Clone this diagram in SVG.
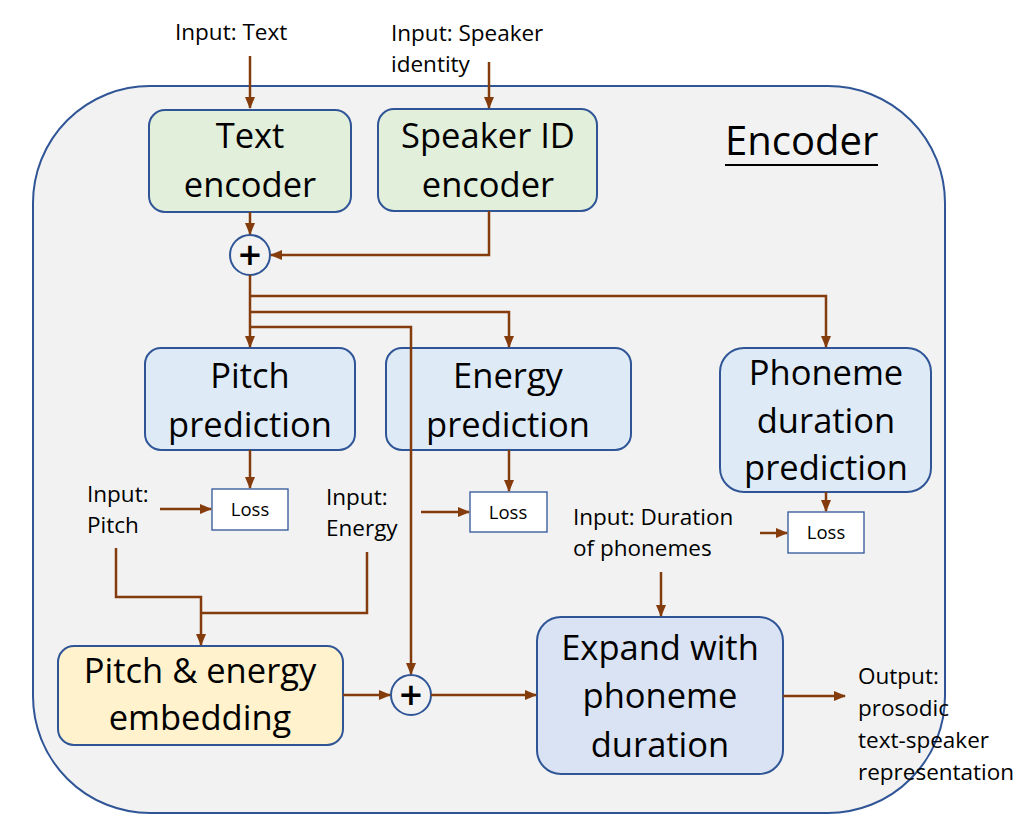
<svg xmlns="http://www.w3.org/2000/svg" width="1033" height="829" viewBox="0 0 1033 829">
<defs>
<marker id="ah" markerUnits="userSpaceOnUse" markerWidth="12" markerHeight="10" refX="11" refY="5" orient="auto">
<path d="M0,0 L12,5 L0,10 Z" fill="#843c0c"/>
</marker>
</defs>
<style>
.lbl{font-family:"Open Sans","Noto Sans",sans-serif;font-size:22.5px;fill:#000}
.big{font-family:"Open Sans","Noto Sans",sans-serif;font-size:34.5px;fill:#000;text-anchor:middle}
.loss{font-family:"Open Sans","Noto Sans",sans-serif;font-size:18.5px;fill:#000;text-anchor:middle}
.box{stroke:#2f5597;stroke-width:2}
.green{fill:#e2efda}
.blue{fill:#deebf7}
.blue2{fill:#dae3f3}
.yellow{fill:#fff2cc}
.lossbox{fill:#fff;stroke:#2f5597;stroke-width:1.3}
.c{fill:none;stroke:#843c0c;stroke-width:2.5}
.plus{font-family:"Open Sans","DejaVu Sans",sans-serif;font-size:40px;font-weight:600;text-anchor:middle;fill:#000}
</style>
<rect width="1033" height="829" fill="#fff"/>
<g id="encoder-container">
<rect x="33" y="86" width="912" height="727" rx="117" ry="117" fill="#f2f2f2" stroke="#2f5597" stroke-width="2"/>
<text x="725" y="155" font-family="'Open Sans','Noto Sans',sans-serif" font-size="40" fill="#000">Encoder</text>
<line x1="725" y1="165" x2="878" y2="165" stroke="#000" stroke-width="2"/>
</g>
<g id="input-text"><text class="lbl" x="175" y="40">Input: Text</text></g>
<g id="input-speaker"><text class="lbl" x="391" y="41">Input: Speaker</text><text class="lbl" x="391" y="72">identity</text></g>
<g id="text-encoder">
<rect class="box green" x="149" y="110" width="202" height="102" rx="16"/>
<text class="big" x="250" y="148">Text</text><text class="big" x="250" y="197">encoder</text>
</g>
<g id="speaker-encoder">
<rect class="box green" x="378" y="109" width="219" height="102" rx="16"/>
<text class="big" x="488" y="148">Speaker ID</text><text class="big" x="488" y="197">encoder</text>
</g>
<g id="sum1">
<circle cx="250" cy="255" r="20" fill="#f2f2f2" stroke="#2f5597" stroke-width="2"/>
<text class="plus" x="250" y="269">+</text>
</g>
<g id="pitch-prediction">
<rect class="box blue" x="145" y="348" width="210" height="102" rx="16"/>
<text class="big" x="250" y="388">Pitch</text><text class="big" x="250" y="437">prediction</text>
</g>
<g id="energy-prediction">
<rect class="box blue" x="386" y="348" width="245" height="102" rx="16"/>
<text class="big" x="508" y="388">Energy</text><text class="big" x="508" y="437">prediction</text>
</g>
<g id="phoneme-duration-prediction">
<rect class="box blue" x="720" y="348" width="211" height="144" rx="24"/>
<text class="big" x="826" y="385">Phoneme</text><text class="big" x="826" y="433">duration</text><text class="big" x="826" y="480">prediction</text>
</g>
<g id="loss-pitch"><rect class="lossbox" x="212" y="489" width="76" height="41"/><text class="loss" x="250" y="516">Loss</text></g>
<g id="loss-energy"><rect class="lossbox" x="470" y="492" width="77" height="40"/><text class="loss" x="508" y="519">Loss</text></g>
<g id="loss-duration"><rect class="lossbox" x="788" y="512" width="76" height="41"/><text class="loss" x="826" y="539">Loss</text></g>
<g id="input-pitch"><text class="lbl" x="87" y="502">Input:</text><text class="lbl" x="87" y="533">Pitch</text></g>
<g id="input-energy"><text class="lbl" x="326" y="505">Input:</text><text class="lbl" x="326" y="536">Energy</text></g>
<g id="input-duration"><text class="lbl" x="573" y="525">Input: Duration</text><text class="lbl" x="573" y="556">of phonemes</text></g>
<g id="pitch-energy-embedding">
<rect class="box yellow" x="58" y="646" width="285" height="99" rx="16"/>
<text class="big" x="200" y="683">Pitch &amp; energy</text><text class="big" x="200" y="730">embedding</text>
</g>
<g id="sum2">
<circle cx="411" cy="695" r="20" fill="#f2f2f2" stroke="#2f5597" stroke-width="2"/>
<text class="plus" x="411" y="709">+</text>
</g>
<g id="expand">
<rect class="box blue2" x="537" y="617" width="246" height="157" rx="24"/>
<text class="big" x="660" y="660">Expand with</text><text class="big" x="660" y="708">phoneme</text><text class="big" x="660" y="757">duration</text>
</g>
<g id="output"><text class="lbl" x="858" y="684">Output:</text><text class="lbl" x="858" y="716">prosodic</text><text class="lbl" x="858" y="748">text-speaker</text><text class="lbl" x="858" y="780">representation</text></g>
<g id="connectors">
<path class="c" d="M250,56 V108" marker-end="url(#ah)"/>
<path class="c" d="M489,62 V108" marker-end="url(#ah)"/>
<path class="c" d="M250,212 V234" marker-end="url(#ah)"/>
<path class="c" d="M489,211 V255 H271" marker-end="url(#ah)"/>
<path class="c" d="M250,275 V347" marker-end="url(#ah)"/>
<path class="c" d="M250,296 H826 V347" marker-end="url(#ah)"/>
<path class="c" d="M250,312 H509 V347" marker-end="url(#ah)"/>
<path class="c" d="M250,327 H411 V674" marker-end="url(#ah)"/>
<path class="c" d="M250,450 V488" marker-end="url(#ah)"/>
<path class="c" d="M509,450 V491" marker-end="url(#ah)"/>
<path class="c" d="M826,492 V511" marker-end="url(#ah)"/>
<path class="c" d="M160,509 H211" marker-end="url(#ah)"/>
<path class="c" d="M421,512 H469" marker-end="url(#ah)"/>
<path class="c" d="M760,533 H787" marker-end="url(#ah)"/>
<path class="c" d="M661,572 V616" marker-end="url(#ah)"/>
<path class="c" d="M116,548 V597 H201 V645" marker-end="url(#ah)"/>
<path class="c" d="M367,552 V613 H201"/>
<path class="c" d="M343,695 H390" marker-end="url(#ah)"/>
<path class="c" d="M431,695 H536" marker-end="url(#ah)"/>
<path class="c" d="M783,696 H845" marker-end="url(#ah)"/>
</g>
</svg>
